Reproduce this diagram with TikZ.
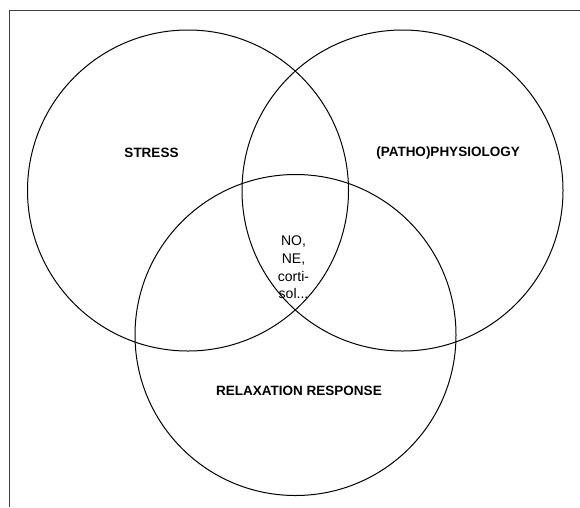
\documentclass[tikz,border=0pt]{standalone}
\usepackage{fontspec}
\setmainfont{Liberation Sans}

\begin{document}
\begin{tikzpicture}[x=1pt,y=-1pt,
  ring/.style={draw,circle,line width=1pt,minimum size=321pt,inner sep=0pt},
  tag/.style={font=\fontsize{13.5}{16}\selectfont\bfseries},
  mid/.style={font=\fontsize{14}{17.7}\selectfont,align=center}]
 \useasboundingbox (0,0) rectangle (580,507);
 \draw[black!75] (9,507)--(9,10)--(580,10); %frame

 \node[ring] (stress) at (188,190.5) {}; %stress
 \node[ring] (physio) at (402.5,190.5) {}; %physiology
 \node[ring] (relax) at (295.5,335) {}; %relaxation response

 \node[tag] (stresslbl) at (151.5,153) {STRESS};
 \node[tag] (physiolbl) at (448,153) {(PATHO)PHYSIOLOGY};
 \node[tag] (relaxlbl) at (299,391) {RELAXATION RESPONSE};
 \node[mid] (core) at (293.5,267.5) {NO,\\NE,\\corti-\\sol...}; %overlap
\end{tikzpicture}
\end{document}
